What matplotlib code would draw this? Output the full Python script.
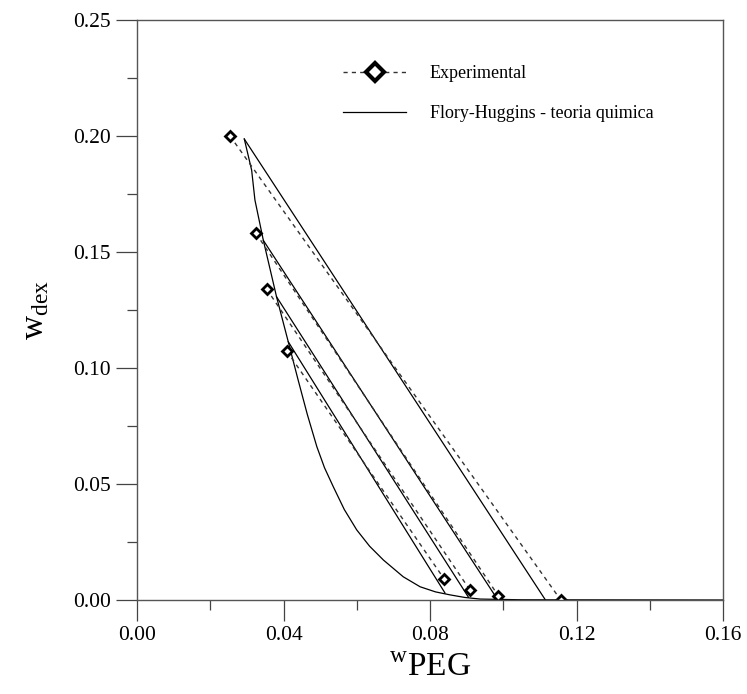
import matplotlib
matplotlib.use('Agg')
import matplotlib.pyplot as plt
from matplotlib.ticker import MultipleLocator, FormatStrFormatter

plt.rcParams['font.family'] = ['Liberation Serif', 'DejaVu Serif']
plt.rcParams['mathtext.fontset'] = 'custom'
plt.rcParams['mathtext.rm'] = 'Liberation Serif'

# experimental tie lines (top phase -> bottom phase)
exp_peg_top = [0.0254, 0.0325, 0.0354, 0.0409]
exp_dex_top = [0.200, 0.158, 0.134, 0.1073]
exp_peg_bot = [0.1157, 0.0987, 0.0909, 0.0839]
exp_dex_bot = [0.0, 0.0017, 0.0043, 0.009]

# Flory-Huggins tie lines
fh_peg_top = [0.0293, 0.0345, 0.0381, 0.0413]
fh_dex_top = [0.1987, 0.155, 0.1307, 0.1113]
fh_peg_bot = [0.1114, 0.0982, 0.0905, 0.0841]
fh_dex_bot = [0.0003, 0.0008, 0.0012, 0.003]

# Flory-Huggins binodal
bin_peg = [0.0293, 0.0313, 0.0322, 0.0345, 0.0381, 0.0413, 0.0440, 0.0465, 0.0491,
           0.0512, 0.0536, 0.0566, 0.0600, 0.0635, 0.0673, 0.0727, 0.0773, 0.0815,
           0.0855, 0.0895, 0.0937, 0.105, 0.16]
bin_dex = [0.1987, 0.1853, 0.1724, 0.155, 0.1307, 0.1113, 0.0948, 0.0800, 0.0661,
           0.0570, 0.0488, 0.0390, 0.0302, 0.0232, 0.0172, 0.0100, 0.0057, 0.0035,
           0.0022, 0.0011, 0.0004, 0.0001, 0.0]

fig = plt.figure(figsize=(7.47, 6.94), dpi=100)
ax = fig.add_axes([137/747, 1-600/694, (723-137)/747, (600-20)/694])

# binodal + FH tie lines
ax.plot(bin_peg, bin_dex, color='black', lw=0.9)
for i in range(len(fh_peg_top)):
    ax.plot([fh_peg_top[i], fh_peg_bot[i]], [fh_dex_top[i], fh_dex_bot[i]],
            color='black', lw=0.9, label='Flory-Huggins - teoria quimica' if i == 0 else None)

# experimental
for i in range(len(exp_peg_top)):
    ax.plot([exp_peg_top[i], exp_peg_bot[i]], [exp_dex_top[i], exp_dex_bot[i]],
            color='#333333', lw=1.0, ls=(0, (3, 3)), marker='D', ms=5.5,
            mfc='white', mec='black', mew=2.0,
            label='Experimental' if i == 0 else None)

ax.set_xlim(0, 0.16)
ax.set_ylim(0, 0.25)
ax.xaxis.set_major_locator(MultipleLocator(0.04))
ax.xaxis.set_minor_locator(MultipleLocator(0.02))
ax.yaxis.set_major_locator(MultipleLocator(0.05))
ax.yaxis.set_minor_locator(MultipleLocator(0.025))
ax.xaxis.set_major_formatter(FormatStrFormatter('%.2f'))
ax.yaxis.set_major_formatter(FormatStrFormatter('%.2f'))
ax.tick_params(which='major', direction='out', length=15, width=0.9, labelsize=15.5, pad=4, color='#444444')
ax.tick_params(which='minor', direction='out', length=7, width=0.9, color='#444444')
for s in ax.spines.values():
    s.set_color('#555555')
    s.set_linewidth(1.0)

ax.set_xlabel(r'$^{\mathregular{w}}\mathregular{PEG}$', fontsize=24, labelpad=5)
ax.set_ylabel(r'w$_{\mathregular{dex}}$', fontsize=24, labelpad=16)

handles, labels = ax.get_legend_handles_labels()
leg = ax.legend(handles[::-1], labels[::-1], loc='upper left',
                bbox_to_anchor=(343/747, 1-65/694), bbox_transform=fig.transFigure,
                frameon=False, fontsize=13, handlelength=3.5, handletextpad=1.3,
                labelspacing=1.3, borderpad=0, borderaxespad=0)
leg.legend_handles[0].set_markersize(9)
leg.legend_handles[0].set_markeredgewidth(3)

fig.savefig('out.png', dpi=100)
